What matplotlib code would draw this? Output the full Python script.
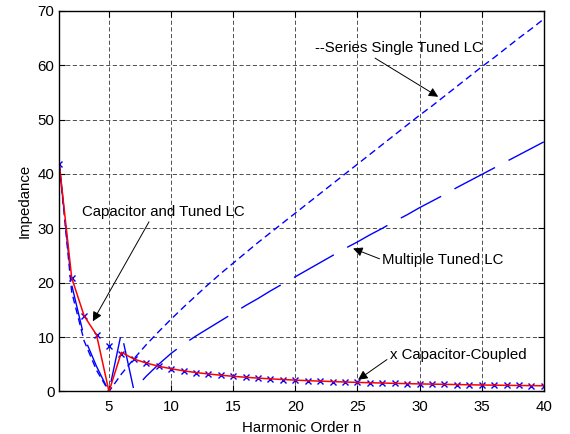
import matplotlib
matplotlib.use('Agg')
import matplotlib.pyplot as plt
import numpy as np

plt.rcParams['font.family'] = ['Liberation Sans', 'DejaVu Sans']

# harmonic orders
n = np.arange(1, 41)

# capacitor-coupled (x markers)
cap_coupled = [41.8, 20.9, 13.93, 10.45, 8.36, 6.97, 5.97, 5.23, 4.64, 4.18,
               3.80, 3.48, 3.22, 2.99, 2.79, 2.61, 2.46, 2.32, 2.20, 2.09,
               1.99, 1.90, 1.82, 1.74, 1.67, 1.61, 1.55, 1.49, 1.44, 1.39,
               1.35, 1.31, 1.27, 1.23, 1.19, 1.16, 1.13, 1.10, 1.07, 1.05]

# capacitor and tuned LC (red)
cap_tuned = [41.8, 20.9, 13.9, 10.4, 0.0, 7.2, 5.97, 5.23, 4.64, 4.18,
             3.80, 3.48, 3.22, 2.99, 2.79, 2.61, 2.46, 2.32, 2.20, 2.09,
             1.99, 1.90, 1.82, 1.74, 1.67, 1.61, 1.55, 1.49, 1.44, 1.39,
             1.35, 1.31, 1.27, 1.23, 1.19, 1.16, 1.13, 1.10, 1.07, 1.05]

# series single tuned LC
series_lc = [41.8, 18.3, 9.3, 3.9, 0.0, 3.2, 6.0, 8.6, 11.0, 13.3,
             15.5, 17.6, 19.7, 21.7, 23.6, 25.5, 27.4, 29.2, 31.0, 32.8,
             34.6, 36.4, 38.2, 40.0, 41.8, 43.6, 45.4, 47.2, 49.0, 50.8,
             52.5, 54.3, 56.1, 57.9, 59.7, 61.4, 63.2, 65.0, 66.7, 68.5]

# multiple tuned LC
multi_lc = [41.8, 19.6, 10.0, 4.6, 0.0, 10.8, 0.3, 2.8, 5.0, 7.0,
            8.7, 10.2, 11.6, 13.0, 14.4, 15.8, 17.1, 18.5, 19.8, 21.1,
            22.4, 23.7, 25.0, 26.3, 27.5, 28.8, 30.0, 31.3, 32.5, 33.8,
            35.0, 36.2, 37.5, 38.7, 39.9, 41.1, 42.3, 43.5, 44.7, 45.9]

fig = plt.figure(figsize=(5.7, 4.34), dpi=100)
ax = fig.add_axes([0.104, 0.098, 0.850, 0.877])

ax.plot(n, series_lc, color='b', lw=1, dashes=[5, 3])
ax.plot(n, multi_lc, color='b', lw=1, dashes=[33, 11])
ax.plot(n, cap_coupled, 'x', color='b', ms=5, mew=1)
ax.plot(n, cap_tuned, color='r', lw=1.1)

ax.set_xlim(1, 40)
ax.set_ylim(0, 70)
ax.set_xticks([5, 10, 15, 20, 25, 30, 35, 40])
ax.set_yticks(range(0, 71, 10))
ax.grid(color='k', linestyle=(0, (5, 3)), linewidth=0.6, alpha=0.8)
ax.tick_params(direction='in', top=True, right=True, labelsize=10.8, length=4)
ax.tick_params(axis='x', pad=6)
for s in ax.spines.values():
    s.set_linewidth(1)

ax.set_xlabel('Harmonic Order n', fontsize=10.8, labelpad=5)
ax.set_ylabel('Impedance', fontsize=10.8, labelpad=4)

arr = dict(arrowstyle='-|>', color='k', lw=0.7, mutation_scale=14)
fs = 10.8
ax.annotate('Capacitor and Tuned LC', xy=(3.7, 12.9), xytext=(2.85, 33.0),
            fontsize=fs, va='center', ha='left',
            arrowprops=dict(arr, shrinkA=0, shrinkB=0, relpos=(0.42, 0.0)))
ax.annotate('--Series Single Tuned LC', xy=(31.5, 54.2), xytext=(21.6, 63.1),
            fontsize=fs, va='center', ha='left',
            arrowprops=dict(arr, shrinkA=0, shrinkB=0, relpos=(0.33, 0.0)))
ax.annotate('Multiple Tuned LC', xy=(24.65, 26.3), xytext=(27.0, 24.2),
            fontsize=fs, va='center', ha='left',
            arrowprops=dict(arr, shrinkA=0, shrinkB=0, relpos=(0.0, 0.5)))
ax.annotate('x Capacitor-Coupled', xy=(25.05, 2.15), xytext=(27.6, 6.74),
            fontsize=fs, va='center', ha='left',
            arrowprops=dict(arr, shrinkA=0, shrinkB=0, relpos=(0.0, 0.3)))

fig.savefig('out.png', dpi=100)
